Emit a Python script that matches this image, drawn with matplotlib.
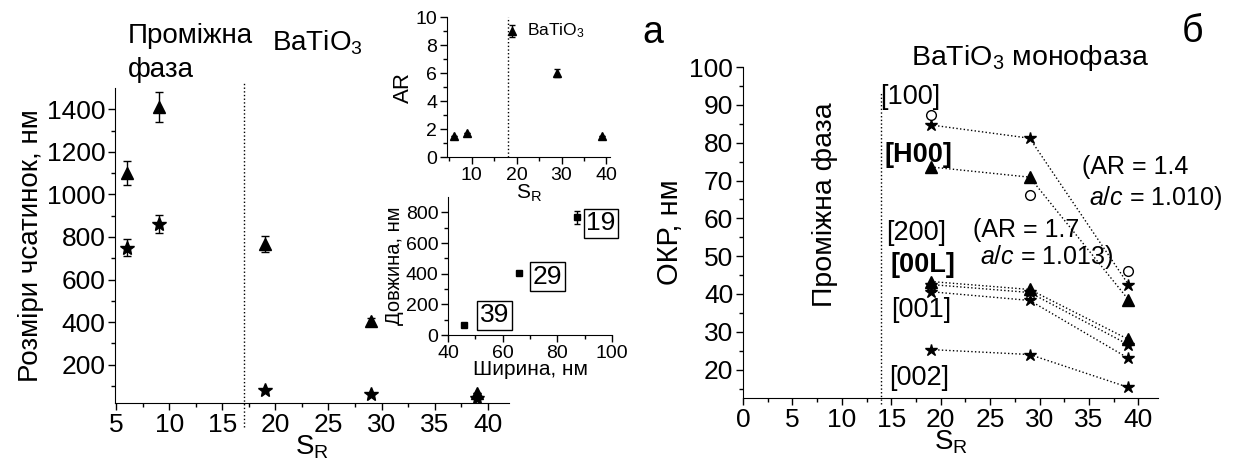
import numpy as np
import matplotlib.pyplot as plt

plt.rcParams['font.family'] = ['Liberation Sans', 'DejaVu Sans']
plt.rcParams['mathtext.fontset'] = 'custom'
plt.rcParams['mathtext.rm'] = 'Liberation Sans'
plt.rcParams['mathtext.it'] = 'Liberation Sans:italic'
plt.rcParams['mathtext.bf'] = 'Liberation Sans:bold'

# розміри частинок (ліва панель)
sr_all = [6, 9, 19, 29, 39]
dovzh = [1100, 1410, 765, 403, 68]
dovzh_err = [55, 70, 38, 15, 0]
shyr = [750, 860, 82, 64, 42]
shyr_err = [40, 43, 0, 0, 0]

# AR вставка
ar = [1.5, 1.7, 9.0, 6.0, 1.5]
ar_err = [0, 0, 0.4, 0.3, 0]

# довжина-ширина вставка
sr_bt = [19, 29, 39]
w_bt = [87, 66, 46]
l_bt = [767, 403, 65]
l_bt_err = [40, 12, 0]

# ОКР (права панель)
sr_okr = [19, 29, 39]
okr_100 = [84.7, 81.2, 42.5]
okr_h00 = [73.6, 70.9, 38.5]
okr_circ = [87.3, 66.2, 46.2]
okr_200 = [42.5, 40.4, 26.6]
okr_00l = [43.3, 41.2, 28.0]
okr_001 = [40.6, 38.3, 23.0]
okr_002 = [25.3, 24.0, 15.3]

fig = plt.figure(figsize=(12.37, 4.68), dpi=100)

def style(ax, fs):
    ax.spines['top'].set_visible(False)
    ax.spines['right'].set_visible(False)
    ax.tick_params(which='both', direction='out', labelsize=fs, width=1, pad=2)
    ax.tick_params(which='major', length=5)
    ax.tick_params(which='minor', length=3)

# ---- ліва панель
ax = fig.add_axes([0.093, 0.139, 0.3185, 0.673])
ax.errorbar(sr_all, dovzh, yerr=dovzh_err, fmt='^', color='k', ms=9, capsize=3, elinewidth=1)
ax.errorbar(sr_all, shyr, yerr=shyr_err, fmt='*', color='k', ms=10, capsize=3, elinewidth=1)
ax.plot([17, 17], [-92, 1527], ls=':', color='k', lw=1, clip_on=False)
ax.set_xlim(4.9, 42)
ax.set_ylim(20, 1500)
ax.set_xticks([5, 10, 15, 20, 25, 30, 35, 40])
ax.set_xticks(np.arange(7.5, 42, 5), minor=True)
ax.set_yticks([200, 400, 600, 800, 1000, 1200, 1400])
ax.set_yticks(np.arange(100, 1500, 200), minor=True)
style(ax, 19)
ax.set_xlabel('S$_\\mathrm{R}$', fontsize=20, labelpad=-2)
ax.set_ylabel('Розміри чсатинок, нм', fontsize=20, labelpad=2)
fig.text(0.1035, 1 - 43 / 468, 'Проміжна', fontsize=20, va='baseline', ha='left')
fig.text(0.1035, 1 - 77 / 468, 'фаза', fontsize=20, va='baseline', ha='left')
fig.text(0.22, 0.893, 'BaTiO$_3$', fontsize=20, va='baseline', ha='left')

# ---- вставка AR
ax1 = fig.add_axes([0.3614, 0.6645, 0.1318, 0.299])
ax1.errorbar(sr_all, ar, yerr=ar_err, fmt='^', color='k', ms=6, capsize=2, elinewidth=1)
ax1.axvline(18, ls=':', color='k', lw=1)
ax1.set_xlim(4.5, 40.8)
ax1.set_ylim(0, 10)
ax1.set_xticks([10, 20, 30, 40])
ax1.set_xticks([5, 15, 25, 35], minor=True)
ax1.set_yticks([0, 2, 4, 6, 8, 10])
ax1.set_yticks([1, 3, 5, 7, 9], minor=True)
style(ax1, 14)
ax1.patch.set_alpha(0)
ax1.set_xlabel('S$_\\mathrm{R}$', fontsize=15, labelpad=-1)
ax1.set_ylabel('AR', fontsize=16, labelpad=1)
ax1.text(22.3, 9.0, 'BaTiO$_3$', fontsize=12.5, va='center', ha='left')

# ---- вставка довжина / ширина
ax2 = fig.add_axes([0.3622, 0.284, 0.1326, 0.295])
ax2.errorbar(w_bt, l_bt, yerr=l_bt_err, fmt='s', color='k', ms=4, capsize=2, elinewidth=1)
ax2.set_xlim(40, 100)
ax2.set_ylim(0, 900)
ax2.set_xticks([40, 60, 80, 100])
ax2.set_xticks([50, 70, 90], minor=True)
ax2.set_yticks([0, 200, 400, 600, 800])
ax2.set_yticks([100, 300, 500, 700], minor=True)
style(ax2, 14)
ax2.patch.set_alpha(0)
ax2.set_xlabel('Ширина, нм', fontsize=15, labelpad=-1)
ax2.set_ylabel('Довжина, нм', fontsize=14.5, labelpad=1)
box = dict(boxstyle='square,pad=0.1', fc='white', ec='k', lw=1)
for s, (bx, by) in zip(sr_bt, [(96, 728), (76.4, 380), (57.1, 130)]):
    ax2.text(bx, by, str(s), fontsize=19, ha='center', va='center', bbox=box, clip_on=False)

# ---- права панель
ax3 = fig.add_axes([0.6007, 0.1496, 0.3355, 0.707])
dot = dict(ls=':', color='k', lw=1)
ax3.plot(sr_okr, okr_100, marker='*', ms=9, **dot)
ax3.plot(sr_okr, okr_h00, marker='^', ms=8, **dot)
ax3.plot(sr_okr, okr_200, marker='*', ms=9, **dot)
ax3.plot(sr_okr, okr_00l, marker='^', ms=8, **dot)
ax3.plot(sr_okr, okr_001, marker='*', ms=9, **dot)
ax3.plot(sr_okr, okr_002, marker='*', ms=9, **dot)
ax3.plot(sr_okr, okr_circ, 'o', ms=7, mfc='white', mec='k', mew=1, ls='none')
ax3.plot([14, 14], [10.8, 93.1], ls=':', color='k', lw=1, clip_on=False)
ax3.set_xlim(0, 42)
ax3.set_ylim(12.5, 100)
ax3.set_xticks([0, 5, 10, 15, 20, 25, 30, 35, 40])
ax3.set_xticks(np.arange(2.5, 42, 5), minor=True)
ax3.set_yticks(np.arange(20, 101, 10))
ax3.set_yticks(np.arange(15, 100, 10), minor=True)
style(ax3, 19)
ax3.set_xlabel('S$_\\mathrm{R}$', fontsize=20, labelpad=-2)
ax3.set_ylabel('ОКР, нм', fontsize=21, labelpad=4)

fs_l = 19.5
ax3.text(16.9, 92.1, '[100]', fontsize=fs_l, ha='center', va='center')
ax3.text(17.7, 76.8, '[H00]', fontsize=fs_l, ha='center', va='center', fontweight='bold')
ax3.text(17.5, 56.2, '[200]', fontsize=fs_l, ha='center', va='center')
ax3.text(18.2, 47.8, '[00L]', fontsize=fs_l, ha='center', va='center', fontweight='bold')
ax3.text(18.0, 35.9, '[001]', fontsize=fs_l, ha='center', va='center')
ax3.text(17.8, 17.9, '[002]', fontsize=fs_l, ha='center', va='center')
ax3.text(34.3, 73.6, '(AR = 1.4', fontsize=18, ha='left', va='center')
ax3.text(35.0, 65.5, '$\\it{a/c}$ = 1.010)', fontsize=18, ha='left', va='center', clip_on=False)
ax3.text(23.3, 57.0, '(AR = 1.7', fontsize=18, ha='left', va='center')
ax3.text(24.0, 49.9, '$\\it{a/c}$ = 1.013)', fontsize=18, ha='left', va='center')
ax3.text(8.3, 63.6, 'Проміжна фаза', fontsize=20.5, rotation=90, ha='center', va='center')
fig.text(1030 / 1237, 1 - 65 / 468, 'BaTiO$_3$ монофаза', fontsize=20.5, ha='center', va='baseline')

fig.text(653 / 1237, 1 - 43 / 468, 'а', fontsize=27, ha='center', va='baseline')
fig.text(1192 / 1237, 1 - 42 / 468, 'б', fontsize=27, ha='center', va='baseline')

plt.savefig('out.png', dpi=100)
